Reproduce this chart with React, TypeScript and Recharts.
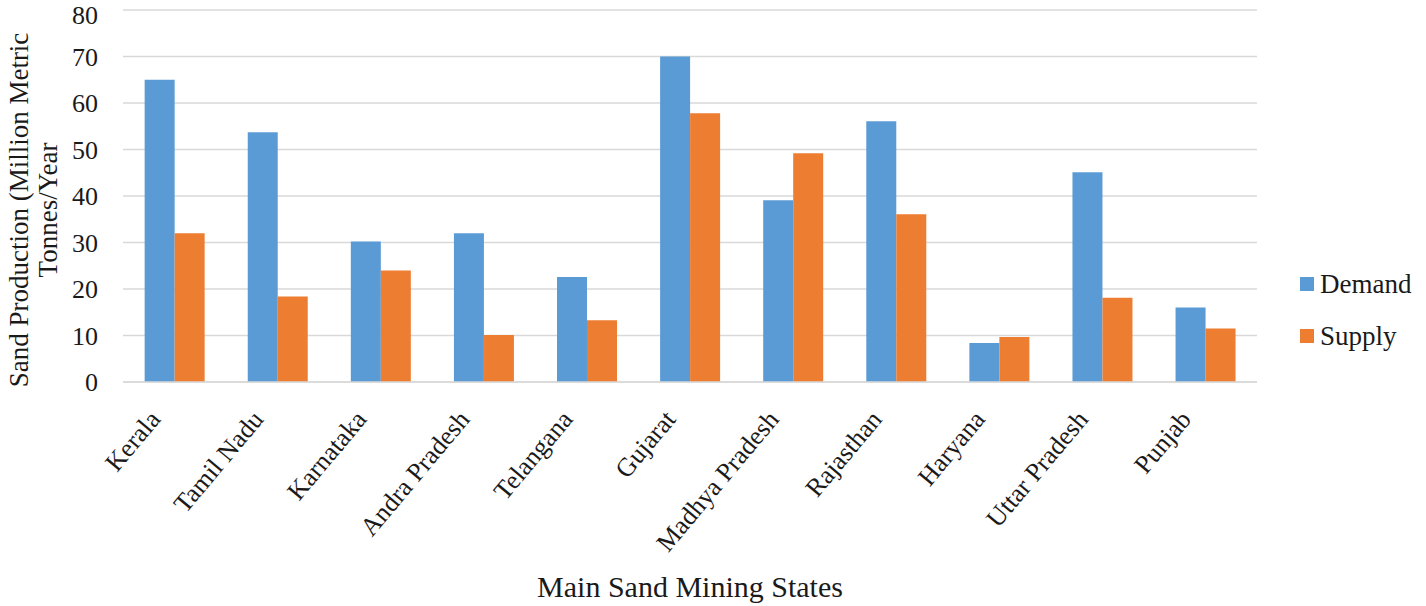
import { BarChart, Bar, XAxis, YAxis, CartesianGrid, Legend } from 'recharts';

const states = [
  'Kerala',
  'Tamil Nadu',
  'Karnataka',
  'Andra Pradesh',
  'Telangana',
  'Gujarat',
  'Madhya Pradesh',
  'Rajasthan',
  'Haryana',
  'Uttar Pradesh',
  'Punjab',
];
const demand = [65, 53.7, 30.2, 32, 22.6, 70, 39.1, 56.1, 8.4, 45.1, 16];
const supply = [32, 18.4, 24, 10.1, 13.3, 57.8, 49.2, 36.1, 9.7, 18.1, 11.5];
const yTicks = [0, 10, 20, 30, 40, 50, 60, 70, 80];

const data = states.map((state, i) => ({ state, Demand: demand[i], Supply: supply[i] }));

const FONT = '"Liberation Serif", "Times New Roman", serif';
const TEXT = '#1a1a1a';
const BLUE = '#5B9BD5';
const ORANGE = '#ED7D31';
const GRID = '#d9d9d9';

const StateTick = ({ x, y, payload }: any) => (
  <g transform={`translate(${x - 13},${y + 30})`}>
    <text textAnchor="end" transform="rotate(-50)" fill={TEXT} fontSize={26} fontFamily={FONT}>
      {payload.value}
    </text>
  </g>
);

const YTitle = () => (
  <text transform="rotate(-90)" textAnchor="middle" fill={TEXT} fontSize={27} fontFamily={FONT}>
    <tspan x={-210} y={28}>Sand Production (Million Metric</tspan>
    <tspan x={-210} y={57}>Tonnes/Year</tspan>
  </text>
);

const LegendBox = () => (
  <div style={{ fontFamily: FONT, fontSize: 27, color: TEXT }}>
    {[
      { name: 'Demand', color: BLUE },
      { name: 'Supply', color: ORANGE },
    ].map((item) => (
      <div key={item.name} style={{ display: 'flex', alignItems: 'center', height: 52 }}>
        <span style={{ display: 'inline-block', width: 14, height: 14, background: item.color, marginRight: 6 }} />
        <span>{item.name}</span>
      </div>
    ))}
  </div>
);

export default function App() {
  return (
    <div style={{ position: 'absolute', left: 0, top: 0, width: 1426, height: 606, background: '#fff' }}>
      <BarChart
        width={1426}
        height={606}
        data={data}
        margin={{ top: 10, right: 169, bottom: 0, left: 0 }}
        barCategoryGap="21%"
        barGap={0}
      >
        <CartesianGrid vertical={false} stroke={GRID} strokeWidth={1.5} />
        <XAxis
          dataKey="state"
          height={224}
          interval={0}
          tickLine={false}
          axisLine={{ stroke: GRID, strokeWidth: 1.5 }}
          tick={<StateTick />}
          label={{
            value: 'Main Sand Mining States',
            position: 'insideBottom',
            offset: 9,
            fill: TEXT,
            fontSize: 30,
            fontFamily: FONT,
          }}
        />
        <YAxis
          width={123}
          domain={[0, 80]}
          ticks={yTicks}
          axisLine={false}
          tickLine={false}
          tickSize={0}
          tickMargin={25}
          tick={{ fill: TEXT, fontSize: 26, fontFamily: FONT }}
          label={<YTitle />}
        />
        <Legend
          layout="vertical"
          align="center"
          verticalAlign="middle"
          content={<LegendBox />}
          wrapperStyle={{ left: 1300, top: 258, width: 130 }}
        />
        <Bar dataKey="Demand" fill={BLUE} isAnimationActive={false} />
        <Bar dataKey="Supply" fill={ORANGE} isAnimationActive={false} />
      </BarChart>
    </div>
  );
}
